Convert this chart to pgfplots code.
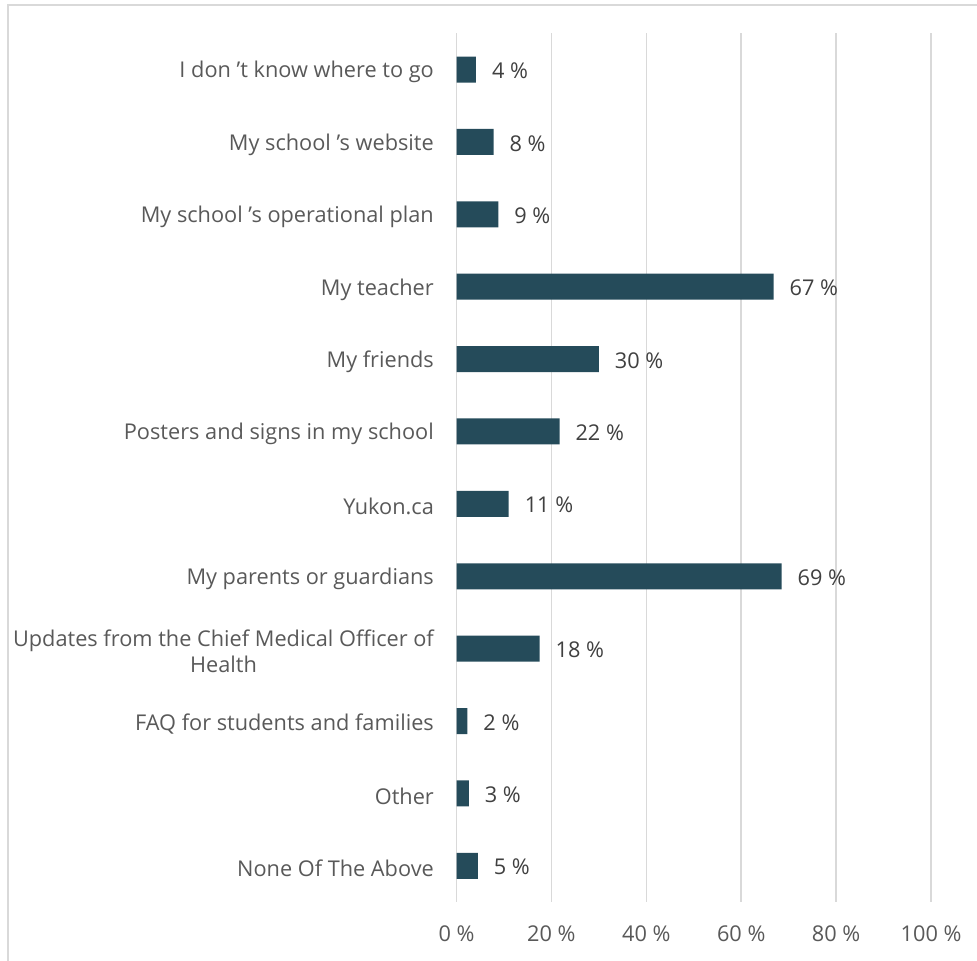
\documentclass[border=0pt]{standalone}
\usepackage{fontspec}
\setmainfont{Open Sans}
\usepackage{pgfplots}
\pgfplotsset{compat=1.18}
\definecolor{barc}{HTML}{254B5A}
\definecolor{lbl}{HTML}{595959}
\definecolor{val}{HTML}{404040}
\definecolor{gridc}{HTML}{D9D9D9}
\pgfplotstableread{
i v l
0 4.1 4
1 7.8 8
2 8.8 9
3 66.8 67
4 30.0 30
5 21.7 22
6 11.0 11
7 68.5 69
8 17.5 18
9 2.3 2
10 2.6 3
11 4.5 5
}\datatable
\begin{document}
\begin{tikzpicture}[x=1pt,y=1pt,font=\fontsize{16.3}{20}\selectfont]
\useasboundingbox (0,0) rectangle (732.75,720);
\draw[gridc, line width=0.8pt] (6,-2) -- (6,716.25) -- (736,716.25);
\begin{axis}[
  at={(342.4pt,43.5pt)}, anchor=south west,
  width=355.9pt, height=651.5pt, scale only axis,
  xbar, bar width=19.5pt,
  xmin=0, xmax=100, ymin=-0.5, ymax=11.5, y dir=reverse,
  axis line style={draw=none},
  xmajorgrids, grid style={gridc, line width=1.2pt},
  xtick={0,20,...,100}, ytick={0,...,11},
  major tick length=0,
  /pgf/number format/assume math mode=true,
  xticklabel={\pgfmathprintnumber{\tick} \%},
  xticklabel style={text=lbl, yshift=-14pt},
  yticklabel style={text=lbl, align=center, xshift=-13.5pt, yshift=-2pt},
  yticklabels={{I don ’t know where to go},{My school ’s website},{My school ’s operational plan},{My teacher},{My friends},{Posters and signs in my school},{Yukon.ca},{My parents or guardians},{Updates from the Chief Medical Officer of\\Health},{FAQ for students and families},{Other},{None Of The Above}},
  point meta=explicit,
  nodes near coords={\pgfmathprintnumber{\pgfplotspointmeta} \%},
  nodes near coords style={anchor=west, xshift=8.5pt, yshift=-1pt, text=val},
  clip=false,
]
\addplot[fill=barc, draw=none] table[x=v, y=i, meta=l] {\datatable};
\end{axis}
\end{tikzpicture}
\end{document}
